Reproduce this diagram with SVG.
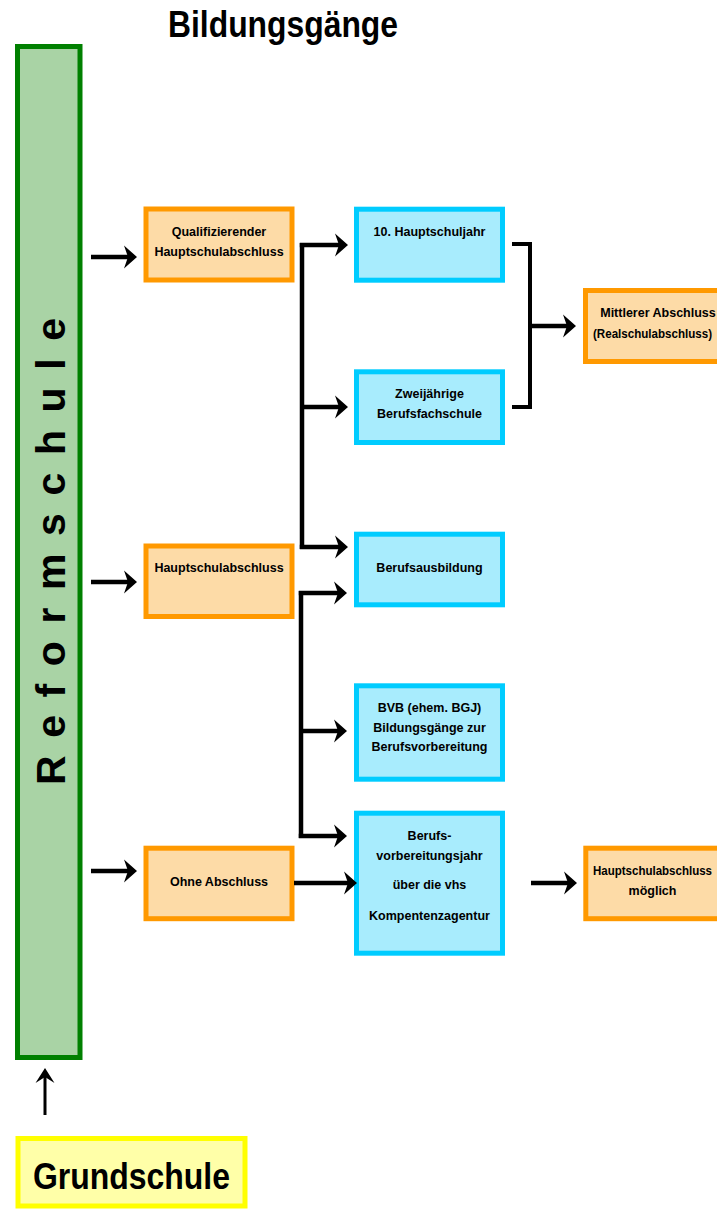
<svg xmlns="http://www.w3.org/2000/svg" width="717" height="1209" viewBox="0 0 717 1209">
<style>
  text { font-family: "Liberation Sans", Arial, sans-serif; font-weight: bold; fill: #000; }
  .lbl { font-size: 12.5px; text-anchor: middle; }
  .edge { font-size: 12px; text-anchor: start; }
  .orange { fill: #fddba7; stroke: #ff9900; stroke-width: 5; }
  .cyan { fill: #a8ecfd; stroke: #00ccff; stroke-width: 5; }
  .conn { fill: none; stroke: #000; stroke-width: 4.5; }
  .bracket { fill: none; stroke: #000; stroke-width: 4; }
</style>
<defs>
  <marker id="ah" markerUnits="userSpaceOnUse" markerWidth="18" markerHeight="24" viewBox="0 0 18 24" refX="13" refY="12" orient="auto" overflow="visible">
    <path d="M17,12 L4,0.5 L8,12 L4,23.5 Z" fill="#000"/>
  </marker>
  <marker id="ahs" markerUnits="userSpaceOnUse" markerWidth="16" markerHeight="20" viewBox="0 0 16 20" refX="11" refY="10" orient="auto" overflow="visible">
    <path d="M15,10 L0,0.5 L6,10 L0,19.5 Z" fill="#000"/>
  </marker>
</defs>

<text id="title" x="168" y="37" font-size="36" textLength="230" lengthAdjust="spacingAndGlyphs">Bildungsgänge</text>

<g id="reformschule">
  <rect x="17.5" y="46.5" width="62.5" height="1011" fill="#a9d3a5" stroke="#008000" stroke-width="5"/>
  <text transform="translate(65,785) rotate(-90)" x="0" y="0" font-size="41" textLength="467" lengthAdjust="spacing">Reformschule</text>
</g>

<g id="grundschule">
  <rect x="18" y="1138.5" width="227" height="67.5" fill="#ffffa8" stroke="#ffff00" stroke-width="5"/>
  <text x="33" y="1189" font-size="36" textLength="197" lengthAdjust="spacingAndGlyphs">Grundschule</text>
</g>

<g id="qualifizierender">
  <rect class="orange" x="146" y="209" width="146" height="71"/>
  <text class="lbl" x="219" y="235.5">Qualifizierender</text>
  <text class="lbl" x="219" y="255.5">Hauptschulabschluss</text>
</g>

<g id="hauptschulabschluss">
  <rect class="orange" x="146" y="546" width="146" height="70.5"/>
  <text class="lbl" x="219" y="572">Hauptschulabschluss</text>
</g>

<g id="ohne-abschluss">
  <rect class="orange" x="146" y="848.2" width="146" height="70.5"/>
  <text class="lbl" x="219" y="885.5">Ohne Abschluss</text>
</g>

<g id="hauptschuljahr">
  <rect class="cyan" x="356.5" y="209.2" width="146" height="71"/>
  <text class="lbl" x="429.5" y="236">10. Hauptschuljahr</text>
</g>

<g id="berufsfachschule">
  <rect class="cyan" x="356.5" y="371.8" width="146" height="70.7"/>
  <text class="lbl" x="429.5" y="398">Zweijährige</text>
  <text class="lbl" x="429.5" y="418">Berufsfachschule</text>
</g>

<g id="berufsausbildung">
  <rect class="cyan" x="356.5" y="534.2" width="146" height="70.6"/>
  <text class="lbl" x="429.5" y="572">Berufsausbildung</text>
</g>

<g id="bvb">
  <rect class="cyan" x="356.5" y="685.8" width="146" height="93.4"/>
  <text class="lbl" x="429.5" y="712">BVB (ehem. BGJ)</text>
  <text class="lbl" x="429.5" y="732">Bildungsgänge zur</text>
  <text class="lbl" x="429.5" y="751">Berufsvorbereitung</text>
</g>

<g id="bvj">
  <rect class="cyan" x="356.5" y="813.2" width="146" height="140"/>
  <text class="lbl" x="429.5" y="839.5">Berufs-</text>
  <text class="lbl" x="429.5" y="859.5">vorbereitungsjahr</text>
  <text class="lbl" x="429.5" y="889">über die vhs</text>
  <text class="lbl" x="429.5" y="919.5">Kompentenzagentur</text>
</g>

<g id="mittlerer-abschluss">
  <rect class="orange" x="585.5" y="290.5" width="146" height="71"/>
  <text class="lbl" x="658" y="317">Mittlerer Abschluss</text>
  <text class="edge" x="593" y="337.5" textLength="119" lengthAdjust="spacingAndGlyphs">(Realschulabschluss)</text>
</g>

<g id="hauptschulabschluss-moeglich">
  <rect class="orange" x="585.8" y="848.2" width="146" height="70.5"/>
  <text class="edge" x="593" y="874.5" textLength="119" lengthAdjust="spacingAndGlyphs">Hauptschulabschluss</text>
  <text class="lbl" x="652.5" y="894.5">möglich</text>
</g>

<g id="connectors">
  <path class="conn" d="M91,257 H133" marker-end="url(#ah)"/>
  <path class="conn" d="M91,582 H133" marker-end="url(#ah)"/>
  <path class="conn" d="M91,871 H133" marker-end="url(#ah)"/>

  <path class="conn" d="M302,243 V549"/>
  <path class="conn" d="M299.8,245 H344" marker-end="url(#ah)"/>
  <path class="conn" d="M302,407 H344" marker-end="url(#ah)"/>
  <path class="conn" d="M299.8,547 H344" marker-end="url(#ah)"/>

  <path class="conn" d="M301,591 V838"/>
  <path class="conn" d="M298.8,593 H343" marker-end="url(#ah)"/>
  <path class="conn" d="M301,731 H343" marker-end="url(#ah)"/>
  <path class="conn" d="M298.8,836 H343" marker-end="url(#ah)"/>

  <path class="conn" d="M294,883 H353" marker-end="url(#ah)"/>

  <path class="bracket" d="M512,244 H530 V407 H512"/>
  <path class="conn" d="M530,326 H572" marker-end="url(#ah)"/>

  <path class="conn" d="M531,883 H573" marker-end="url(#ah)"/>

  <path fill="none" stroke="#000" stroke-width="3" d="M45,1115 V1072" marker-end="url(#ahs)"/>
</g>
</svg>
